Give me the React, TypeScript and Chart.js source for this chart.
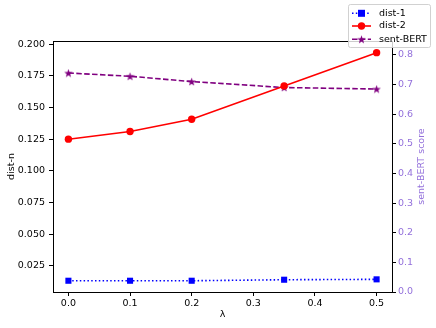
import React, { useEffect, useRef } from "react";
import { Chart, registerables } from "chart.js";

Chart.register(...registerables);

const lambdas = [0, 0.1, 0.2, 0.35, 0.5];
const dist1 = [0.0131, 0.0131, 0.0131, 0.0139, 0.0142];
const dist2 = [0.125, 0.1311, 0.1408, 0.1671, 0.1934];
const sentBert = [0.739, 0.728, 0.71, 0.69, 0.685];

const leftTicks = [0.025, 0.05, 0.075, 0.1, 0.125, 0.15, 0.175, 0.2];
const rightTicks = [0, 0.1, 0.2, 0.3, 0.4, 0.5, 0.6, 0.7, 0.8];
const xTicks = [0, 0.1, 0.2, 0.3, 0.4, 0.5];

const labels = ["dist-1", "dist-2", "sent-BERT"];
const FONT = "'DejaVu Sans', sans-serif";
const FS = 9.5;
const PURPLE_LABEL = "#9370DB";

function makeStar(size: number, color: string): HTMLCanvasElement {
  const c = document.createElement("canvas");
  c.width = size;
  c.height = size;
  const ctx = c.getContext("2d")!;
  const cx = size / 2;
  const cy = size / 2 + 0.4;
  const R = size / 2;
  const r = R * 0.4;
  ctx.beginPath();
  for (let i = 0; i < 10; i++) {
    const rad = i % 2 === 0 ? R : r;
    const a = -Math.PI / 2 + (i * Math.PI) / 5;
    const px = cx + rad * Math.cos(a);
    const py = cy + rad * Math.sin(a);
    if (i === 0) ctx.moveTo(px, py);
    else ctx.lineTo(px, py);
  }
  ctx.closePath();
  ctx.fillStyle = color;
  ctx.fill();
  return c;
}

export default function App() {
  const ref = useRef<HTMLCanvasElement>(null);
  useEffect(() => {
    document.body.style.margin = "0";
    const star = makeStar(9, "purple");
    const toPts = (ys: number[]) => lambdas.map((x, i) => ({ x, y: ys[i] }));

    const frame = {
      id: "frame",
      afterDraw(chart: any) {
        const { ctx, chartArea: a } = chart;
        ctx.save();
        ctx.strokeStyle = "#000";
        ctx.lineWidth = 1;
        ctx.strokeRect(Math.round(a.left) + 0.5, Math.round(a.top) + 0.5, Math.round(a.right - a.left), Math.round(a.bottom - a.top));

        ctx.font = `${FS}px ${FONT}`;
        ctx.textAlign = "center";
        ctx.textBaseline = "middle";
        ctx.fillStyle = "#000";
        ctx.fillText("λ", (a.left + a.right) / 2, 315);
        const cy = (a.top + a.bottom) / 2;
        ctx.save();
        ctx.translate(12, cy);
        ctx.rotate(-Math.PI / 2);
        ctx.fillText("dist-n", 0, 0);
        ctx.restore();
        ctx.save();
        ctx.translate(421.5, cy);
        ctx.rotate(-Math.PI / 2);
        ctx.fillStyle = PURPLE_LABEL;
        ctx.fillText("sent-BERT score", 0, 0);
        ctx.restore();

        const bx = 348.5, by = 4.5, bw = 82, bh = 43;
        ctx.beginPath();
        (ctx as any).roundRect(bx, by, bw, bh, 2);
        ctx.fillStyle = "rgba(255,255,255,0.8)";
        ctx.fill();
        ctx.strokeStyle = "rgba(204,204,204,0.9)";
        ctx.lineWidth = 1;
        ctx.stroke();

        const rows = [13.3, 26, 39.3];
        const ds = chart.data.datasets;
        rows.forEach((yy, i) => {
          const d = ds[i];
          ctx.save();
          ctx.strokeStyle = d.borderColor;
          ctx.lineWidth = d.borderWidth;
          ctx.setLineDash(d.borderDash || []);
          ctx.beginPath();
          ctx.moveTo(352, yy);
          ctx.lineTo(371, yy);
          ctx.stroke();
          ctx.restore();
          ctx.fillStyle = d.pointBackgroundColor;
          if (i === 0) {
            ctx.fillRect(361.5 - 3.5, yy - 3.5, 7, 7);
          } else if (i === 1) {
            ctx.beginPath();
            ctx.arc(361.5, yy, 3.7, 0, Math.PI * 2);
            ctx.fill();
          } else {
            ctx.drawImage(star, 361.5 - 4.5, yy - 4.5);
          }
          ctx.fillStyle = "#000";
          ctx.font = `${FS}px ${FONT}`;
          ctx.textAlign = "left";
          ctx.textBaseline = "middle";
          ctx.fillText(labels[i], 379, yy);
        });
        ctx.restore();
      },
    };

    const tickFont = { family: FONT, size: FS };
    const chart = new Chart(ref.current!, {
      type: "line",
      data: {
        datasets: [
          {
            label: labels[0],
            data: toPts(dist1),
            yAxisID: "y",
            borderColor: "blue",
            backgroundColor: "blue",
            pointBackgroundColor: "blue",
            pointBorderColor: "blue",
            borderWidth: 1.6,
            borderDash: [1.5, 2.3],
            pointStyle: "rect",
            pointRadius: 4.3,
            pointBorderWidth: 0,
          },
          {
            label: labels[1],
            data: toPts(dist2),
            yAxisID: "y",
            borderColor: "red",
            backgroundColor: "red",
            pointBackgroundColor: "red",
            pointBorderColor: "red",
            borderWidth: 1.6,
            pointStyle: "circle",
            pointRadius: 3.7,
            pointBorderWidth: 0,
          },
          {
            label: labels[2],
            data: toPts(sentBert),
            yAxisID: "y1",
            borderColor: "purple",
            backgroundColor: "purple",
            pointBackgroundColor: "purple",
            pointBorderColor: "purple",
            borderWidth: 1.6,
            borderDash: [5.5, 2.4],
            pointStyle: star as any,
            pointRadius: 4.5,
            pointBorderWidth: 0,
          },
        ] as any,
      },
      options: {
        animation: false,
        responsive: false,
        layout: { padding: { top: 41, left: 0, right: 0, bottom: 0 } },
        plugins: { legend: { display: false }, tooltip: { enabled: false } },
        scales: {
          x: {
            type: "linear",
            min: -0.025,
            max: 0.525,
            afterBuildTicks: (s: any) => { s.ticks = xTicks.map((v) => ({ value: v })); },
            afterFit: (s: any) => { s.height = 36; },
            ticks: { font: tickFont, color: "#000", padding: 2, maxRotation: 0, callback: (v: any) => Number(v).toFixed(1) },
            grid: { drawOnChartArea: false, drawTicks: true, tickLength: 4, color: "#000" },
            border: { display: false },
          },
          y: {
            type: "linear",
            position: "left",
            min: 0.0042,
            max: 0.2026,
            afterBuildTicks: (s: any) => { s.ticks = leftTicks.map((v) => ({ value: v })); },
            afterFit: (s: any) => { s.width = 53; },
            ticks: { font: tickFont, color: "#000", padding: 4, callback: (v: any) => Number(v).toFixed(3) },
            grid: { drawOnChartArea: false, drawTicks: true, tickLength: 4, color: "#000" },
            border: { display: false },
          },
          y1: {
            type: "linear",
            position: "right",
            min: 0,
            max: 0.847,
            afterBuildTicks: (s: any) => { s.ticks = rightTicks.map((v) => ({ value: v })); },
            afterFit: (s: any) => { s.width = 44; },
            ticks: { font: tickFont, color: PURPLE_LABEL, padding: 2, callback: (v: any) => Number(v).toFixed(1) },
            grid: { drawOnChartArea: false, drawTicks: true, tickLength: 4, color: "#000" },
            border: { display: false },
          },
        },
      } as any,
      plugins: [frame],
    });
    return () => chart.destroy();
  }, []);
  return (
    <div style={{ position: "fixed", left: 0, top: 0, width: 436, height: 328, background: "#fff" }}>
      <canvas ref={ref} width={436} height={328} style={{ width: 436, height: 328 }} />
    </div>
  );
}
